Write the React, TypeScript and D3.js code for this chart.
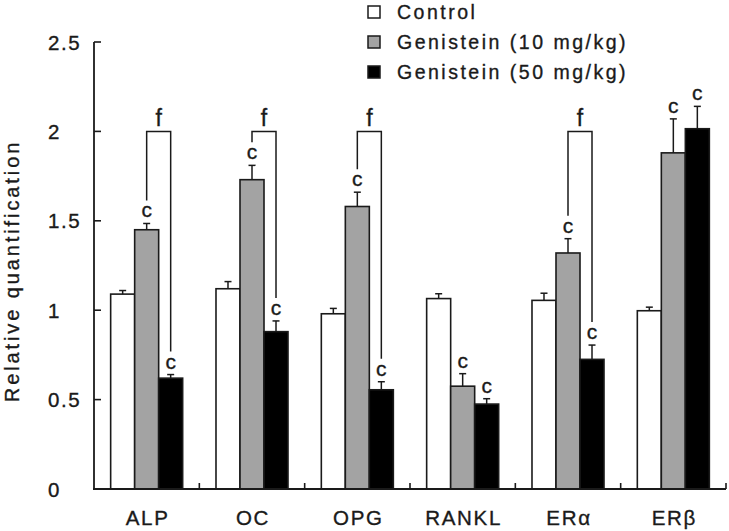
import React from "react";
import * as d3 from "d3";

const categories = ["ALP", "OC", "OPG", "RANKL", "ERα", "ERβ"];
const seriesNames = ["Control", "Genistein (10 mg/kg)", "Genistein (50 mg/kg)"];
const controlValues = [1.09, 1.12, 0.98, 1.065, 1.055, 0.997];
const controlErrors = [0.02, 0.04, 0.03, 0.027, 0.04, 0.02];
const gen10Values = [1.45, 1.73, 1.58, 0.575, 1.32, 1.88];
const gen10Errors = [0.035, 0.08, 0.08, 0.07, 0.08, 0.19];
const gen50Values = [0.62, 0.88, 0.555, 0.475, 0.725, 2.015];
const gen50Errors = [0.02, 0.06, 0.045, 0.03, 0.08, 0.125];
const controlSig = ["", "", "", "", "", ""];
const gen10Sig = ["c", "c", "c", "c", "c", "c"];
const gen50Sig = ["c", "c", "c", "c", "c", "c"];
const bracketLabels = ["f", "f", "f", "", "f", ""];
const bracketLevel = 2;
const yTicks = [0, 0.5, 1, 1.5, 2, 2.5];
const yTickLabels = ["0", "0.5", "1", "1.5", "2", "2.5"];
const yTitle = "Relative quantification";

const fills = ["#ffffff", "#a3a3a3", "#000000"];
const FONT = "'Liberation Sans', Arial, Helvetica, sans-serif";
const INK = "#1a1a1a";
const txtStroke = { stroke: INK, strokeWidth: 0.35, paintOrder: "stroke" } as any;

export default function App() {
  const W = 729, H = 531;
  const y = d3.scaleLinear().domain([0, 2.5]).range([489, 42]);
  const x = d3.scaleBand<string>().domain(categories).range([94, 726]).paddingInner(0).paddingOuter(0);
  const xs = d3.scaleBand<string>().domain(seriesNames).range([0, x.bandwidth()]).paddingInner(0).paddingOuter(0.694);
  const bw = xs.bandwidth();

  const series = [
    { name: seriesNames[0], values: controlValues, errors: controlErrors, sig: controlSig, fill: fills[0] },
    { name: seriesNames[1], values: gen10Values, errors: gen10Errors, sig: gen10Sig, fill: fills[1] },
    { name: seriesNames[2], values: gen50Values, errors: gen50Errors, sig: gen50Sig, fill: fills[2] },
  ];

  const barX = (ci: number, si: number) => (x(categories[ci]) as number) + (xs(seriesNames[si]) as number);
  const errTop = (si: number, ci: number) => y(series[si].values[ci] + series[si].errors[ci]);

  return (
    <svg width={W} height={H} style={{ position: "absolute", left: 0, top: 0, background: "#fff" }} fontFamily={FONT}>
      {/* bars */}
      {series.map((s, si) =>
        categories.map((c, ci) => (
          <rect key={`b${si}-${ci}`} x={barX(ci, si)} y={y(s.values[ci])} width={bw} height={y(0) - y(s.values[ci])}
            fill={s.fill} stroke={INK} strokeWidth={1.6} />
        ))
      )}
      {/* error bars */}
      {series.map((s, si) =>
        categories.map((c, ci) => {
          const cx = barX(ci, si) + bw / 2;
          const t = errTop(si, ci);
          return (
            <g key={`e${si}-${ci}`} stroke={INK} strokeWidth={1.5}>
              <line x1={cx} x2={cx} y1={y(s.values[ci])} y2={t} />
              <line x1={cx - 3.5} x2={cx + 3.5} y1={t} y2={t} />
            </g>
          );
        })
      )}
      {/* significance letters */}
      {series.map((s, si) =>
        categories.map((c, ci) =>
          s.sig[ci] ? (
            <text key={`s${si}-${ci}`} x={barX(ci, si) + bw / 2} y={errTop(si, ci) - 6} textAnchor="middle"
              fontSize={21} fill={INK} {...txtStroke}>{s.sig[ci]}</text>
          ) : null
        )
      )}
      {/* brackets */}
      {categories.map((c, ci) => {
        if (!bracketLabels[ci]) return null;
        const x1 = barX(ci, 1) + bw / 2;
        const x2 = barX(ci, 2) + bw / 2;
        const yb = y(bracketLevel);
        const l1 = errTop(1, ci) - 23;
        const l2 = errTop(2, ci) - 23;
        return (
          <g key={`br${ci}`}>
            <path d={`M${x1},${l1}V${yb}H${x2}V${l2}`} fill="none" stroke={INK} strokeWidth={1.5} />
            <text x={(x1 + x2) / 2} y={yb - 5} textAnchor="middle" fontSize={23} fill={INK} {...txtStroke}>{bracketLabels[ci]}</text>
          </g>
        );
      })}
      {/* y axis */}
      <line x1={94} x2={94} y1={y(2.5)} y2={y(0)} stroke={INK} strokeWidth={1.8} />
      {yTicks.map((t, i) => (
        <g key={`yt${i}`}>
          <line x1={94} x2={101} y1={y(t)} y2={y(t)} stroke={INK} strokeWidth={1.6} />
          <text x={48} y={y(t) + 7.5} fontSize={20.5} letterSpacing={1.6} fill={INK} {...txtStroke}>{yTickLabels[i]}</text>
        </g>
      ))}
      {/* x axis */}
      <line x1={93} x2={726} y1={y(0)} y2={y(0)} stroke={INK} strokeWidth={1.8} />
      {categories.map((c, ci) => {
        const bx = (x(c) as number) + x.bandwidth();
        return <line key={`xt${ci}`} x1={bx} x2={bx} y1={y(0)} y2={y(0) - 6} stroke={INK} strokeWidth={1.6} />;
      })}
      {categories.map((c) => (
        <text key={`xl${c}`} x={(x(c) as number) + x.bandwidth() / 2 + 1} y={525} textAnchor="middle" fontSize={20.5}
          letterSpacing={1.7} fill={INK} {...txtStroke}>{c}</text>
      ))}
      {/* y title */}
      <text transform={`translate(19,271) rotate(-90)`} textAnchor="middle" fontSize={20} letterSpacing={2.9} fill={INK} {...txtStroke}>{yTitle}</text>
      {/* legend */}
      {seriesNames.map((n, i) => (
        <g key={`lg${i}`} transform={`translate(368, ${12 + i * 30})`}>
          <rect x={0} y={-6} width={12} height={12} fill={fills[i]} stroke={INK} strokeWidth={1.5} />
          <text x={29} y={6.5} fontSize={19.5} letterSpacing={2.5} fill={INK} {...txtStroke}>{n}</text>
        </g>
      ))}
    </svg>
  );
}
